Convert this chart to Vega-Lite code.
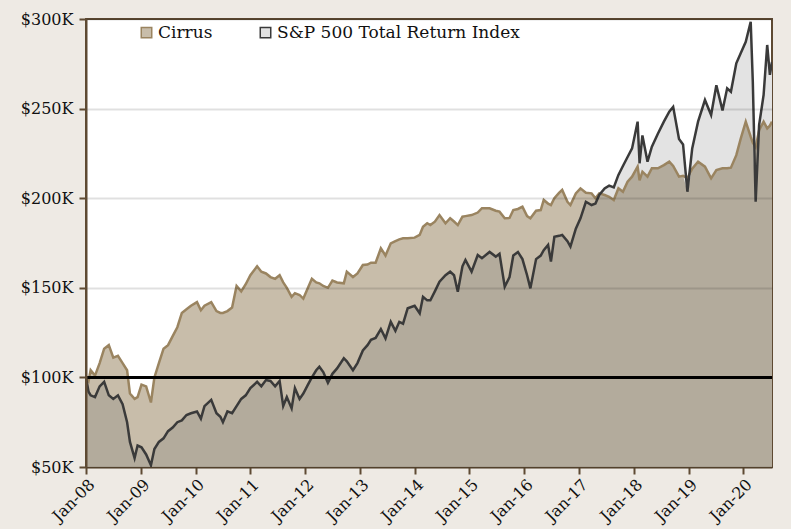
{
  "$schema": "https://vega.github.io/schema/vega-lite/v6.json",
  "width": 686,
  "height": 448,
  "autosize": {"type": "none"},
  "padding": {"left": 86, "top": 19, "right": 19, "bottom": 62},
  "background": "#EEEAE4",
  "config": {
    "font": "DejaVu Serif",
    "view": {"stroke": "#5E4A33", "strokeWidth": 2, "fill": "#FFFFFF"},
    "axis": {"labelFont": "DejaVu Serif", "labelFontSize": 16, "labelColor": "#111111", "domainColor": "#5E4A33", "domainWidth": 2, "tickColor": "#5E4A33", "tickWidth": 2, "tickSize": 7, "title": null}
  },
  "data": {"values": [
    {"date": "2008-01-01", "cirrus": 100, "sp": 100},
    {"date": "2008-01-18", "cirrus": 98, "sp": 92},
    {"date": "2008-02-01", "cirrus": 104, "sp": 90},
    {"date": "2008-03-01", "cirrus": 101, "sp": 89},
    {"date": "2008-04-01", "cirrus": 108, "sp": 95},
    {"date": "2008-05-01", "cirrus": 116, "sp": 97.5},
    {"date": "2008-06-01", "cirrus": 118, "sp": 90},
    {"date": "2008-07-01", "cirrus": 111, "sp": 88},
    {"date": "2008-08-01", "cirrus": 112, "sp": 90},
    {"date": "2008-09-01", "cirrus": 108, "sp": 85},
    {"date": "2008-10-01", "cirrus": 104, "sp": 75},
    {"date": "2008-10-20", "cirrus": 91, "sp": 64},
    {"date": "2008-11-20", "cirrus": 88, "sp": 55},
    {"date": "2008-12-10", "cirrus": 89, "sp": 62},
    {"date": "2009-01-05", "cirrus": 96, "sp": 61},
    {"date": "2009-02-05", "cirrus": 95, "sp": 57},
    {"date": "2009-03-09", "cirrus": 86, "sp": 51},
    {"date": "2009-04-01", "cirrus": 100, "sp": 60},
    {"date": "2009-05-01", "cirrus": 108, "sp": 64},
    {"date": "2009-06-01", "cirrus": 116, "sp": 66},
    {"date": "2009-07-01", "cirrus": 118, "sp": 70},
    {"date": "2009-08-01", "cirrus": 123, "sp": 72},
    {"date": "2009-09-01", "cirrus": 128, "sp": 75},
    {"date": "2009-10-01", "cirrus": 136, "sp": 76},
    {"date": "2009-11-01", "cirrus": 138, "sp": 79},
    {"date": "2009-12-01", "cirrus": 140, "sp": 80},
    {"date": "2010-01-10", "cirrus": 142, "sp": 81},
    {"date": "2010-02-05", "cirrus": 137.5, "sp": 77},
    {"date": "2010-03-01", "cirrus": 140, "sp": 84},
    {"date": "2010-04-15", "cirrus": 142, "sp": 87.5},
    {"date": "2010-05-20", "cirrus": 137, "sp": 80},
    {"date": "2010-06-15", "cirrus": 136, "sp": 78},
    {"date": "2010-07-02", "cirrus": 136, "sp": 75},
    {"date": "2010-08-01", "cirrus": 137, "sp": 81},
    {"date": "2010-09-01", "cirrus": 139, "sp": 80},
    {"date": "2010-10-01", "cirrus": 151, "sp": 84},
    {"date": "2010-11-01", "cirrus": 148, "sp": 88},
    {"date": "2010-12-01", "cirrus": 152, "sp": 90},
    {"date": "2011-01-01", "cirrus": 157, "sp": 94},
    {"date": "2011-02-15", "cirrus": 162, "sp": 97.5},
    {"date": "2011-03-15", "cirrus": 159, "sp": 95},
    {"date": "2011-04-15", "cirrus": 158, "sp": 98.5},
    {"date": "2011-05-15", "cirrus": 156, "sp": 98},
    {"date": "2011-06-15", "cirrus": 155, "sp": 95},
    {"date": "2011-07-15", "cirrus": 157, "sp": 98},
    {"date": "2011-08-08", "cirrus": 153, "sp": 84},
    {"date": "2011-09-01", "cirrus": 150, "sp": 89},
    {"date": "2011-10-03", "cirrus": 145, "sp": 82.7},
    {"date": "2011-10-25", "cirrus": 147, "sp": 94},
    {"date": "2011-11-25", "cirrus": 146, "sp": 88},
    {"date": "2011-12-20", "cirrus": 144, "sp": 91},
    {"date": "2012-01-20", "cirrus": 150, "sp": 96},
    {"date": "2012-02-15", "cirrus": 155, "sp": 100},
    {"date": "2012-03-15", "cirrus": 153, "sp": 104},
    {"date": "2012-04-05", "cirrus": 152.5, "sp": 106},
    {"date": "2012-05-01", "cirrus": 151, "sp": 103},
    {"date": "2012-06-01", "cirrus": 150, "sp": 97},
    {"date": "2012-07-01", "cirrus": 154, "sp": 102},
    {"date": "2012-08-01", "cirrus": 153, "sp": 105},
    {"date": "2012-09-15", "cirrus": 152.5, "sp": 110.7},
    {"date": "2012-10-05", "cirrus": 159, "sp": 109},
    {"date": "2012-11-15", "cirrus": 156, "sp": 104},
    {"date": "2012-12-15", "cirrus": 158, "sp": 108},
    {"date": "2013-01-20", "cirrus": 162.7, "sp": 115},
    {"date": "2013-02-20", "cirrus": 163, "sp": 118},
    {"date": "2013-03-15", "cirrus": 164, "sp": 121},
    {"date": "2013-04-15", "cirrus": 164, "sp": 122},
    {"date": "2013-05-20", "cirrus": 172, "sp": 127},
    {"date": "2013-06-20", "cirrus": 168, "sp": 121.8},
    {"date": "2013-07-25", "cirrus": 174.8, "sp": 131},
    {"date": "2013-08-25", "cirrus": 176, "sp": 126},
    {"date": "2013-09-20", "cirrus": 177, "sp": 131},
    {"date": "2013-10-15", "cirrus": 177.6, "sp": 130},
    {"date": "2013-11-15", "cirrus": 177.6, "sp": 138.6},
    {"date": "2013-12-31", "cirrus": 178, "sp": 140},
    {"date": "2014-02-03", "cirrus": 179.5, "sp": 135.8},
    {"date": "2014-02-25", "cirrus": 184, "sp": 145},
    {"date": "2014-03-25", "cirrus": 186, "sp": 143},
    {"date": "2014-04-15", "cirrus": 185, "sp": 143},
    {"date": "2014-05-15", "cirrus": 186.9, "sp": 148},
    {"date": "2014-06-15", "cirrus": 190.6, "sp": 153.4},
    {"date": "2014-07-25", "cirrus": 186, "sp": 157},
    {"date": "2014-08-25", "cirrus": 188.8, "sp": 159},
    {"date": "2014-09-20", "cirrus": 187, "sp": 157},
    {"date": "2014-10-15", "cirrus": 185, "sp": 147.8},
    {"date": "2014-11-15", "cirrus": 189.7, "sp": 162},
    {"date": "2014-12-05", "cirrus": 190, "sp": 165.5},
    {"date": "2015-01-15", "cirrus": 190.6, "sp": 159},
    {"date": "2015-02-25", "cirrus": 192, "sp": 168.3},
    {"date": "2015-03-25", "cirrus": 194.4, "sp": 166.5},
    {"date": "2015-05-15", "cirrus": 194.4, "sp": 170},
    {"date": "2015-06-25", "cirrus": 193, "sp": 167.4},
    {"date": "2015-07-20", "cirrus": 192.5, "sp": 169},
    {"date": "2015-08-24", "cirrus": 188.8, "sp": 150.6},
    {"date": "2015-09-25", "cirrus": 189, "sp": 156},
    {"date": "2015-10-20", "cirrus": 193.4, "sp": 168},
    {"date": "2015-11-20", "cirrus": 194, "sp": 170},
    {"date": "2015-12-20", "cirrus": 195.3, "sp": 166},
    {"date": "2016-01-20", "cirrus": 190, "sp": 157},
    {"date": "2016-02-11", "cirrus": 188.8, "sp": 149.7},
    {"date": "2016-03-20", "cirrus": 193, "sp": 166},
    {"date": "2016-04-20", "cirrus": 193.4, "sp": 168},
    {"date": "2016-05-10", "cirrus": 199, "sp": 171},
    {"date": "2016-06-08", "cirrus": 197, "sp": 173.9},
    {"date": "2016-06-27", "cirrus": 196.2, "sp": 164.6},
    {"date": "2016-07-20", "cirrus": 200, "sp": 178.5},
    {"date": "2016-08-20", "cirrus": 203, "sp": 179},
    {"date": "2016-09-10", "cirrus": 204.6, "sp": 179.5},
    {"date": "2016-10-15", "cirrus": 198, "sp": 176},
    {"date": "2016-11-04", "cirrus": 196.2, "sp": 173},
    {"date": "2016-12-10", "cirrus": 202.7, "sp": 183},
    {"date": "2017-01-10", "cirrus": 205.5, "sp": 188.8},
    {"date": "2017-02-15", "cirrus": 203, "sp": 198},
    {"date": "2017-03-25", "cirrus": 202.7, "sp": 196.2},
    {"date": "2017-04-20", "cirrus": 200, "sp": 197},
    {"date": "2017-05-15", "cirrus": 202.7, "sp": 201.8},
    {"date": "2017-06-20", "cirrus": 201.8, "sp": 205.5},
    {"date": "2017-07-20", "cirrus": 200.8, "sp": 207},
    {"date": "2017-08-20", "cirrus": 199, "sp": 206},
    {"date": "2017-09-20", "cirrus": 205.5, "sp": 213},
    {"date": "2017-10-20", "cirrus": 203.6, "sp": 218},
    {"date": "2017-11-20", "cirrus": 209.2, "sp": 223},
    {"date": "2017-12-20", "cirrus": 212, "sp": 227.8},
    {"date": "2018-01-26", "cirrus": 217.6, "sp": 242.7},
    {"date": "2018-02-08", "cirrus": 210, "sp": 219.5},
    {"date": "2018-02-27", "cirrus": 214.8, "sp": 235},
    {"date": "2018-04-02", "cirrus": 212, "sp": 220.4},
    {"date": "2018-05-01", "cirrus": 216.7, "sp": 228.7},
    {"date": "2018-06-10", "cirrus": 216.7, "sp": 236},
    {"date": "2018-07-20", "cirrus": 218.5, "sp": 242.7},
    {"date": "2018-08-25", "cirrus": 220.4, "sp": 248.3},
    {"date": "2018-09-20", "cirrus": 218, "sp": 251},
    {"date": "2018-10-29", "cirrus": 212, "sp": 233},
    {"date": "2018-11-25", "cirrus": 212.5, "sp": 230},
    {"date": "2018-12-24", "cirrus": 211.1, "sp": 203.6},
    {"date": "2019-01-25", "cirrus": 216.5, "sp": 227.8},
    {"date": "2019-03-05", "cirrus": 220.4, "sp": 242.7},
    {"date": "2019-04-20", "cirrus": 217.6, "sp": 254.8},
    {"date": "2019-05-31", "cirrus": 211.1, "sp": 246.4},
    {"date": "2019-07-05", "cirrus": 215.7, "sp": 263},
    {"date": "2019-08-15", "cirrus": 216.7, "sp": 249},
    {"date": "2019-09-15", "cirrus": 216.7, "sp": 261.3},
    {"date": "2019-10-10", "cirrus": 217, "sp": 259.4},
    {"date": "2019-11-15", "cirrus": 224, "sp": 275.3},
    {"date": "2019-12-15", "cirrus": 233.4, "sp": 281},
    {"date": "2020-01-17", "cirrus": 242.7, "sp": 287.3},
    {"date": "2020-02-19", "cirrus": 234.3, "sp": 298.5},
    {"date": "2020-03-04", "cirrus": 231, "sp": 265},
    {"date": "2020-03-23", "cirrus": 228.5, "sp": 198},
    {"date": "2020-04-15", "cirrus": 238, "sp": 240.8},
    {"date": "2020-05-15", "cirrus": 242.7, "sp": 257.6},
    {"date": "2020-06-08", "cirrus": 239, "sp": 285.5},
    {"date": "2020-06-26", "cirrus": 240.5, "sp": 268.8},
    {"date": "2020-07-10", "cirrus": 242.7, "sp": 276}
  ]},
  "transform": [{"fold": ["cirrus", "sp"], "as": ["series", "value"]}],
  "layer": [
    {
      "mark": {"type": "area", "clip": true},
      "encoding": {
        "x": {"field": "date", "type": "temporal", "scale": {"type": "utc", "domain": [{"year": 2008, "month": 1, "date": 1, "utc": true}, {"year": 2020, "month": 7, "date": 10, "utc": true}]},
          "axis": {"values": [
            {"year": 2008, "month": 1, "date": 1, "utc": true}, {"year": 2009, "month": 1, "date": 1, "utc": true}, {"year": 2010, "month": 1, "date": 1, "utc": true}, {"year": 2011, "month": 1, "date": 1, "utc": true}, {"year": 2012, "month": 1, "date": 1, "utc": true}, {"year": 2013, "month": 1, "date": 1, "utc": true}, {"year": 2014, "month": 1, "date": 1, "utc": true}, {"year": 2015, "month": 1, "date": 1, "utc": true}, {"year": 2016, "month": 1, "date": 1, "utc": true}, {"year": 2017, "month": 1, "date": 1, "utc": true}, {"year": 2018, "month": 1, "date": 1, "utc": true}, {"year": 2019, "month": 1, "date": 1, "utc": true}, {"year": 2020, "month": 1, "date": 1, "utc": true}],
            "format": "%b-%y", "labelAngle": -45, "grid": false, "labelPadding": 2}},
        "y": {"field": "value", "type": "quantitative", "stack": null, "scale": {"domain": [50, 300], "nice": false, "zero": false},
          "axis": {"values": [50, 100, 150, 200, 250, 300], "labelExpr": "'$' + datum.value + 'K'", "grid": true, "gridColor": "#000000", "gridOpacity": 0.12, "gridWidth": 2, "zindex": 1, "labelPadding": 6}},
        "fill": {"field": "series", "type": "nominal", "scale": {"domain": ["cirrus", "sp"], "range": ["#C8BDAA", "#E3E3E3"]},
          "legend": {"orient": "none", "legendX": 52, "legendY": 5, "direction": "horizontal", "title": null, "labelExpr": "datum.value == 'cirrus' ? 'Cirrus' : 'S&P 500 Total Return Index'", "labelFontSize": 17, "labelLimit": 0, "labelColor": "#111111", "labelFont": "DejaVu Serif", "symbolType": "square", "symbolSize": 110, "symbolStrokeWidth": 1.5, "columnPadding": 44, "labelOffset": 3}}
      }
    },
    {
      "transform": [{"aggregate": [{"op": "min", "field": "value", "as": "low"}], "groupby": ["date"]}],
      "mark": {"type": "area", "clip": true, "color": "#B3AB9C"},
      "encoding": {
        "x": {"field": "date", "type": "temporal"},
        "y": {"field": "low", "type": "quantitative"}
      }
    },
    {
      "mark": {"type": "line", "strokeWidth": 2.5, "clip": true},
      "encoding": {
        "x": {"field": "date", "type": "temporal"},
        "y": {"field": "value", "type": "quantitative"},
        "stroke": {"field": "series", "type": "nominal", "scale": {"domain": ["cirrus", "sp"], "range": ["#9A8460", "#3A3A3A"]}}
      }
    },
    {
      "mark": {"type": "rule", "color": "#000000", "strokeWidth": 2},
      "encoding": {"y": {"datum": 100}}
    }
  ]
}
